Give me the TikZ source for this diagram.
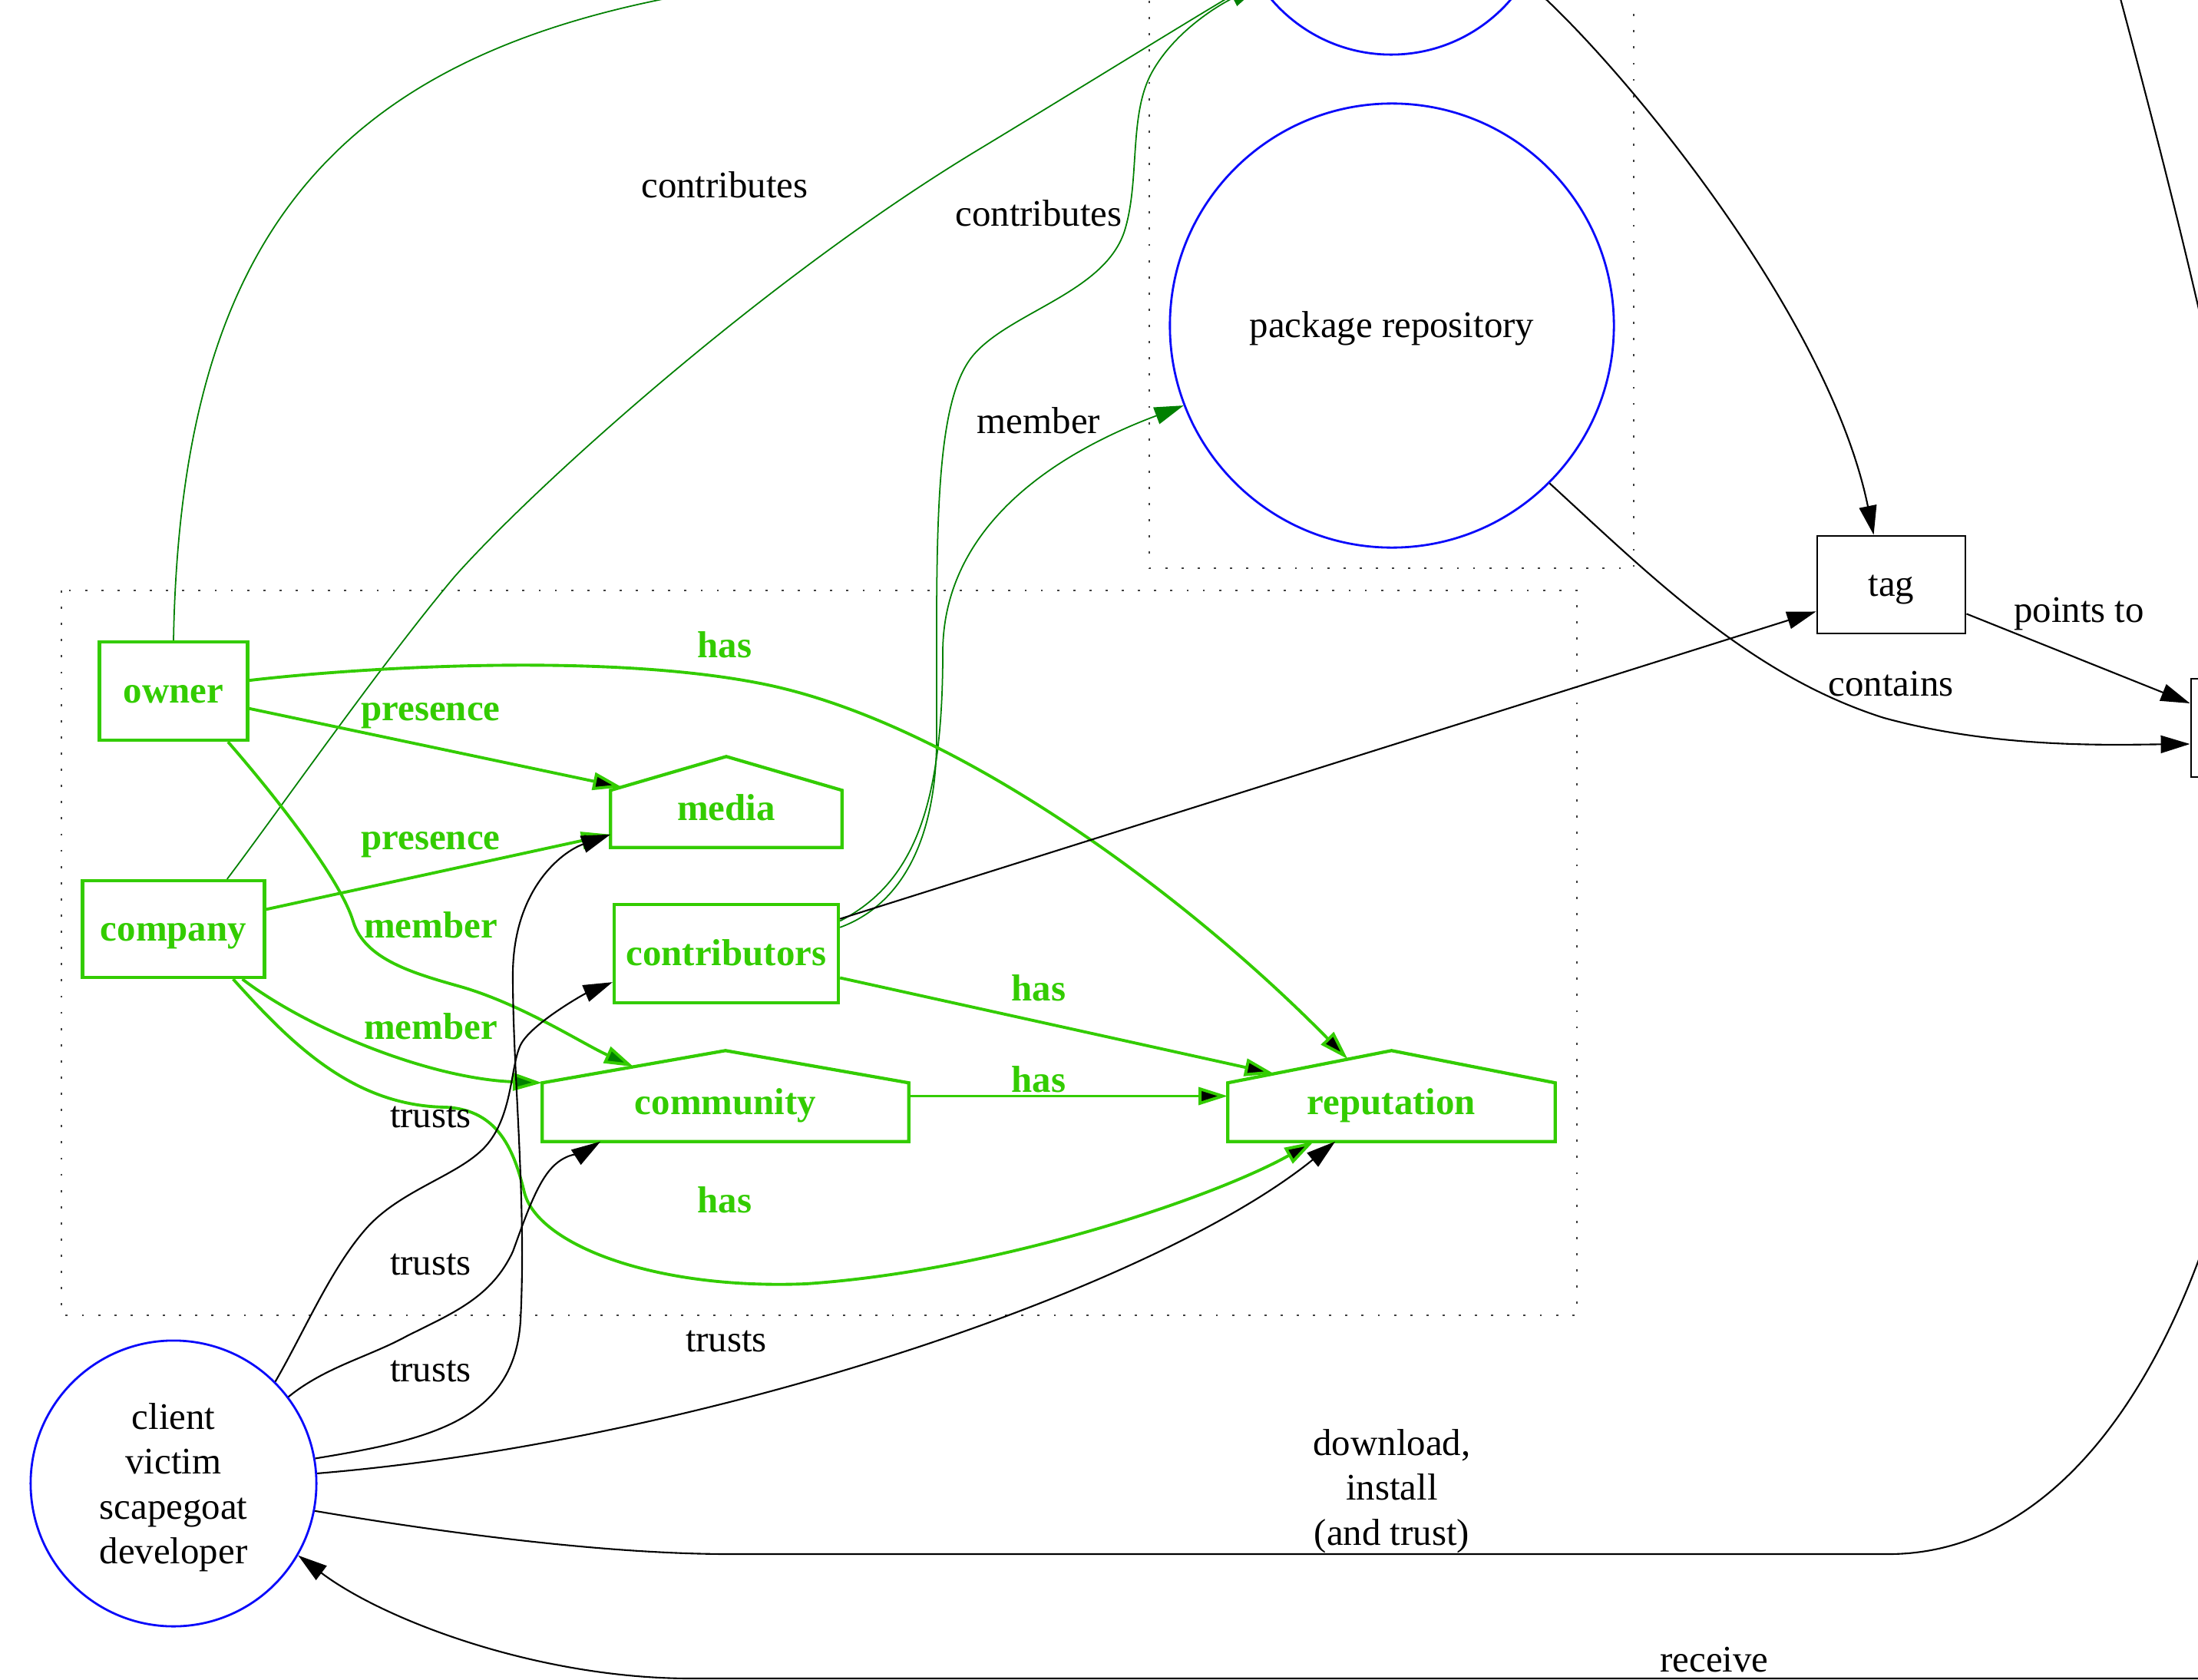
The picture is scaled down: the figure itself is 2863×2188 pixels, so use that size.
\documentclass[tikz,border=0pt]{standalone}
\usepackage{fontspec}
\setmainfont{Liberation Serif}
\usetikzlibrary{arrows.meta,calc}
\definecolor{gg}{RGB}{51,204,0}
\definecolor{dg}{RGB}{0,128,0}
\definecolor{bl}{RGB}{10,10,250}
\begin{document}
\begin{tikzpicture}[x=0.01cm,y=-0.01cm,
  txt/.style={font=\fontsize{13.9}{16.6}\selectfont, inner sep=0pt},
  gtxt/.style={font=\fontsize{13.9}{16.6}\selectfont\bfseries, text=gg, inner sep=0pt},
  low/.style={text height=11pt, text depth=2.4pt},
  lower/.style={text height=16.2pt, text depth=2.4pt},
  gboxn/.style={gtxt, low, draw=gg, line width=1.2pt, rectangle},
  ghouse/.style={gtxt, lower, rectangle},
  housepath/.style={draw=gg, line width=1.2pt, line join=miter},
  bbox/.style={txt, low, draw=black, line width=0.8pt, rectangle},
  bcirc/.style={txt, draw=bl, line width=0.8pt, circle},
  cluster/.style={draw=black!75, line width=0.8pt, dash pattern=on 0.8pt off 5.2pt},
  tip/.style={-{Triangle[length=10.8pt,width=6.5pt]}},
  bline/.style={draw=black, line width=0.6pt},
  blk/.style={bline, tip},
  gedge/.style={draw=gg, line width=1.1pt, -{Triangle[length=10.8pt,width=6.5pt,fill=black]}},
  gmem/.style={draw=gg, line width=1.1pt, -{Triangle[length=10.8pt,width=6.5pt,fill=dg]}},
  dgedge/.style={draw=dg, line width=0.5pt, -{Triangle[length=10.8pt,width=6.5pt]}}
]
\useasboundingbox (0,0) rectangle (2863,2188);
\clip (0,0) rectangle (2863,2188);

% clusters
\draw[cluster] (80,769) rectangle (2054,1713);
\draw[cluster] (1497,-20) rectangle (2128,740);

% nodes
\node[gboxn, minimum width=1.93cm, minimum height=1.28cm] (owner) at (226,900) {owner};
\node[gboxn, minimum width=2.37cm, minimum height=1.26cm] (company) at (226,1210) {company};
\node[gboxn, minimum width=2.92cm, minimum height=1.28cm] (contributors) at (946,1242) {contributors};
\node[ghouse, minimum width=3.00cm, minimum height=1.17cm] (media) at (946,1044.5) {media};
\node[ghouse, minimum width=4.76cm, minimum height=1.17cm] (community) at (945,1427.5) {community};
\node[ghouse, minimum width=4.25cm, minimum height=1.17cm] (reputation) at (1812.5,1427.5) {reputation};
\draw[housepath] (media.south west) -- ([yshift=-0.44cm]media.north west) -- (media.north) -- ([yshift=-0.44cm]media.north east) -- (media.south east) -- cycle;
\draw[housepath] (community.south west) -- ([yshift=-0.42cm]community.north west) -- (community.north) -- ([yshift=-0.42cm]community.north east) -- (community.south east) -- cycle;
\draw[housepath] (reputation.south west) -- ([yshift=-0.42cm]reputation.north west) -- (reputation.north) -- ([yshift=-0.42cm]reputation.north east) -- (reputation.south east) -- cycle;

\node[bbox, minimum width=1.93cm, minimum height=1.27cm] (tag) at (2463.5,761.5) {tag};
\node[bbox, minimum width=1.93cm, minimum height=1.28cm] (rbox) at (2950.5,948) {};
\node[bcirc, low, minimum size=5.78cm] (repo) at (1813,424) {package repository};
\node[bcirc, minimum size=4.10cm] (topc) at (1812,-134) {};
\node[bcirc, minimum size=3.72cm, align=center] (client) at (226,1932) {\rule{0pt}{12.7pt}client\\victim\\scapegoat\\developer};

% free ends of edges leaving the frame
\coordinate (tr-a) at (2730,-120);
\coordinate (tr-b) at (2890,520);
\coordinate (dl-end) at (2900,1530);
\coordinate (rc-start) at (2900,2186);

% contributes / member (dark green)
\draw[dgedge] (owner.north) .. controls (235,330) and (420,90) .. (858,0)
  .. controls (1100,-50) and (1400,-100) .. (topc.195);
\draw[dgedge] (company.43) .. controls (360,1060) and (500,860) .. (593,750)
  .. controls (700,630) and (1000,360) .. (1276,194)
  .. controls (1400,119) and (1560,20) .. (topc.212);
\draw[dgedge] (contributors.13) .. controls (1170,1180) and (1220,1100) .. (1220,960)
  .. controls (1220,700) and (1215,520) .. (1270,460)
  .. controls (1320,405) and (1440,380) .. (1465,300)
  .. controls (1485,235) and (1470,150) .. (1500,95)
  .. controls (1530,40) and (1590,5) .. (topc.214);
\draw[dgedge] (contributors.16) .. controls (1190,1150) and (1228,1050) .. (1228,850)
  .. controls (1228,700) and (1350,600) .. (repo.201);

% green relations
\draw[gedge] (owner.8) .. controls (480,868) and (800,850) .. (1000,892)
  .. controls (1250,945) and (1550,1170) .. ($(reputation.north)+(-57,11)$);
\draw[gedge] (owner.-13) -- ($(media.north west)+(15,40)$);
\draw[gedge] (company.12) -- ($(media.south west)+(0,-17)$);
\draw[gmem] (owner.-43) .. controls (370,1050) and (445,1150) .. (460,1200)
  .. controls (475,1250) and (540,1268) .. (600,1285)
  .. controls (680,1308) and (760,1360) .. ($(community.north west)+(119,21)$);
\draw[gmem] (company.-36) .. controls (400,1340) and (560,1405) .. ($(community.north west)+(0,42)$);
\draw[gedge] (company.-40) .. controls (380,1360) and (460,1440) .. (580,1442)
  .. controls (650,1445) and (670,1500) .. (683,1553)
  .. controls (700,1620) and (850,1680) .. (1050,1672)
  .. controls (1300,1655) and (1580,1560) .. ($(reputation.south west)+(112,0)$);
\draw[gedge] (contributors.-12) -- ($(reputation.north west)+(60,30)$);
\draw[gedge] (community.east) -- (reputation.west);

% black relations
\draw[blk] (contributors.17) -- ($(tag.south west)+(0,-30)$);
\draw[blk] (client.10) .. controls (560,1875) and (670,1850) .. (678,1720)
  .. controls (686,1560) and (668,1400) .. (668,1270)
  .. controls (668,1160) and (730,1110) .. ($(media.south west)+(0,-17)$);
\draw[blk] (client.45) .. controls (397,1733) and (431,1652) .. (477,1600)
  .. controls (523,1548) and (602,1530) .. (635,1490)
  .. controls (668,1450) and (665,1388) .. (678,1361)
  .. controls (691,1334) and (760,1295) .. ($(contributors.south west)+(0,-29)$);
\draw[blk] (client.37) .. controls (424,1780) and (481,1767) .. (530,1740)
  .. controls (590,1710) and (640,1690) .. (668,1630)
  .. controls (683,1589) and (697,1547) .. (716,1524)
  .. controls (735,1501) and (760,1501) .. ($(community.south west)+(76,0)$);
\draw[blk] (client.4) .. controls (912,1878) and (1500,1680) .. ($(reputation.south west)+(140,0)$);
\draw[blk] (topc.-32) .. controls (2090,60) and (2380,400) .. ($(tag.north west)+(75,0)$);
\draw[blk] (repo.-45) .. controls (2150,750) and (2280,880) .. (2454,935)
  .. controls (2600,975) and (2750,970) .. ($(rbox.west)+(0,21)$);
\draw[blk] ($(tag.south east)+(0,-27)$) -- ($(rbox.west)+(0,-32)$);
\draw[bline] (tr-a) .. controls (2790,100) and (2850,330) .. (tr-b);
\draw[bline] (client.-11) .. controls (600,2000) and (800,2024) .. (950,2024) -- (2460,2024)
  .. controls (2650,2024) and (2810,1850) .. (dl-end);
\draw[blk] (rc-start) -- (900,2186) .. controls (700,2186) and (500,2110) .. (client.-30);

% edge labels
\node[txt] (l-contrib1) at (944,241) {contributes};
\node[txt] (l-contrib2) at (1353,278) {contributes};
\node[txt] (l-member) at (1353,548) {member};
\node[gtxt] (l-has1) at (944,840) {has};
\node[gtxt] (l-pres1) at (561,932) {presence};
\node[gtxt] (l-pres2) at (561,1100) {presence};
\node[gtxt] (l-mem1) at (561,1205) {member};
\node[gtxt] (l-mem2) at (561,1337) {member};
\node[gtxt] (l-has2) at (1353,1287) {has};
\node[gtxt] (l-has3) at (1353,1406) {has};
\node[gtxt] (l-has4) at (944,1563) {has};
\node[txt] (l-tr1) at (561,1455) {trusts};
\node[txt] (l-tr2) at (561,1647) {trusts};
\node[txt] (l-tr3) at (561,1786) {trusts};
\node[txt] (l-tr4) at (946,1747) {trusts};
\node[txt, align=center] (l-dl) at (1813,1942) {download,\\install\\(and trust)};
\node[txt] (l-rc) at (2233,2162) {receive};
\node[txt] (l-pt) at (2708,800) {points to};
\node[txt] (l-ct) at (2463,891) {contains};
\end{tikzpicture}
\end{document}
